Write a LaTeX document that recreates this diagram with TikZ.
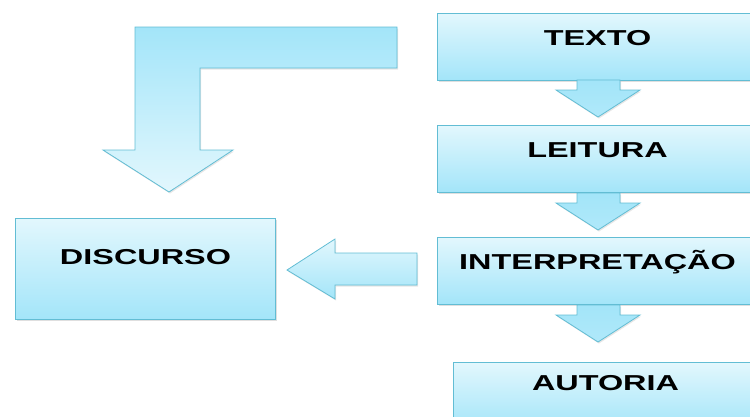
\documentclass[tikz,border=0pt]{standalone}
\usepackage{fontspec}
\newfontfamily\caixafont[FakeStretch=1.5]{Liberation Sans}
\usetikzlibrary{shadows}

\definecolor{borda}{HTML}{62BDD4}
\definecolor{claro}{HTML}{E2F7FD}
\definecolor{escuro}{HTML}{A3E5F9}

\tikzset{
  caixa/.style={draw=borda, line width=1pt, top color=claro, bottom color=escuro,
    inner sep=0pt, minimum width=320pt, text height=32pt, text depth=35pt,
    font=\caixafont\bfseries\fontsize{21.6}{22}\selectfont,
    drop shadow={opacity=0.25, shadow xshift=1pt, shadow yshift=-1.5pt}},
  seta/.style={draw=borda, line width=0.8pt, top color=escuro, bottom color=escuro!80!claro,
    drop shadow={opacity=0.2, shadow xshift=1pt, shadow yshift=-1.5pt}}
}

% seta para baixo entre as caixas: #1 = y do topo
\newcommand\setabaixo[1]{%
  \path[seta] (577,#1) -- (620,#1) -- (620,#1+10) -- (640,#1+10) -- (598,#1+37)
    -- (556,#1+10) -- (577,#1+10) -- cycle;}

\begin{document}
\begin{tikzpicture}[x=1pt, y=-1pt]
        \useasboundingbox (0,0) rectangle (750,416);
        \clip (0,0) rectangle (750,416);
        % coluna da direita
        \node[caixa, anchor=north west] (texto) at (437,13) {TEXTO};
        \node[caixa, anchor=north west] (leitura) at (437,125) {LEITURA};
        \node[caixa, anchor=north west] (interp) at (437,237) {INTERPRETAÇÃO};
        \node[caixa, anchor=north west, minimum width=304pt, text height=28pt, text depth=39pt]
          (autoria) at (453,362) {AUTORIA};
        \setabaixo{80}
        \setabaixo{193}
        \setabaixo{305}
        % discurso
        \node[caixa, anchor=north west, minimum width=260pt, text height=45.5pt, text depth=55.5pt]
          (discurso) at (15,218) {DISCURSO};
        \path[seta, top color=claro, bottom color=escuro] (417,253) -- (417,285) -- (335,285)
          -- (335,299) -- (287,270) -- (335,239) -- (335,253) -- cycle;
        % seta dobrada
        \path[seta, top color=escuro, bottom color=claro] (135,27) -- (397,27) -- (397,68)
          -- (200,68) -- (200,150) -- (233,150) -- (169,192) -- (103,150) -- (135,150) -- cycle;
\end{tikzpicture}
\end{document}
